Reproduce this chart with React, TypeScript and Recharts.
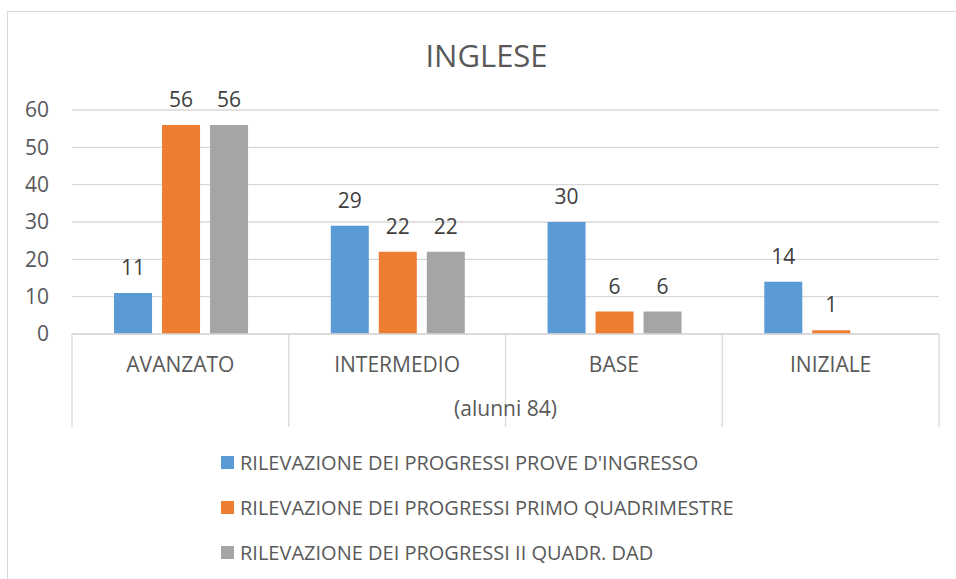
import React from 'react';
import { BarChart, Bar, XAxis, YAxis, CartesianGrid, LabelList, Label } from 'recharts';

const title = 'INGLESE';
const xAxisTitle = '(alunni 84)';
const categories = ['AVANZATO', 'INTERMEDIO', 'BASE', 'INIZIALE'];
const seriesNames = [
  "RILEVAZIONE DEI PROGRESSI PROVE D'INGRESSO",
  'RILEVAZIONE DEI PROGRESSI PRIMO QUADRIMESTRE',
  'RILEVAZIONE DEI PROGRESSI II QUADR. DAD',
];
const proveIngresso = [11, 29, 30, 14];
const primoQuadrimestre = [56, 22, 6, 1];
const secondoQuadrDad: (number | null)[] = [56, 22, 6, null];
const yTicks = [0, 10, 20, 30, 40, 50, 60];
const colors = ['#5B9BD5', '#ED7D31', '#A5A5A5'];
const seriesKeys = ['s0', 's1', 's2'];

const data = categories.map((c, i) => ({
  name: c,
  s0: proveIngresso[i],
  s1: primoQuadrimestre[i],
  s2: secondoQuadrDad[i],
}));

const FONT = '"Open Sans", sans-serif';
const GRID = '#d9d9d9';
const AXIS_TEXT = '#595959';
const FS = 21;

const CategoryTick = (props: any) => {
  const { x, y, payload, index, visibleTicksCount } = props;
  const half = payload && typeof payload.offset === 'number' ? payload.offset : 0;
  const isLast = index === (visibleTicksCount ?? categories.length) - 1;
  return (
    <g>
      <line x1={x - half} x2={x - half} y1={y} y2={y + 93} stroke={GRID} strokeWidth={1.3} />
      {isLast && <line x1={x + half} x2={x + half} y1={y} y2={y + 93} stroke={GRID} strokeWidth={1.3} />}
      <text x={x} y={y + 38} textAnchor="middle" fill={AXIS_TEXT} fontSize={FS} fontFamily={FONT}>
        {payload.value}
      </text>
    </g>
  );
};

export default function App() {
  return (
    <div style={{ position: 'absolute', left: 0, top: 0, width: 956, height: 579, overflow: 'hidden', background: '#fff' }}>
      <div
        style={{
          position: 'absolute',
          left: 7,
          top: 11,
          width: 1000,
          height: 700,
          borderTop: `1.5px solid ${GRID}`,
          borderLeft: `1.5px solid ${GRID}`,
        }}
      />
      <div style={{ position: 'absolute', left: 0, top: 0 }}>
        <BarChart
          width={956}
          height={579}
          data={data}
          margin={{ top: 110, right: 17, left: 12, bottom: 152 }}
          barCategoryGap="19.4%"
          barGap={10}
        >
          <CartesianGrid vertical={false} stroke={GRID} strokeWidth={1.3} />
          <XAxis
            dataKey="name"
            height={93}
            axisLine={{ stroke: GRID, strokeWidth: 1.3 }}
            tickLine={false}
            tickSize={0}
            tickMargin={0}
            interval={0}
            tick={<CategoryTick />}
          >
            <Label
              value={xAxisTitle}
              position="insideBottom"
              offset={11}
              fill={AXIS_TEXT}
              fontSize={FS}
              fontFamily={FONT}
            />
          </XAxis>
          <YAxis
            width={60}
            domain={[0, 60]}
            ticks={yTicks}
            interval={0}
            axisLine={false}
            tickLine={false}
            tickSize={0}
            tickMargin={23}
            tick={{ fill: AXIS_TEXT, fontSize: FS, fontFamily: FONT }}
          />
          {seriesKeys.map((k, i) => (
            <Bar key={k} dataKey={k} name={seriesNames[i]} fill={colors[i]} isAnimationActive={false}>
              <LabelList dataKey={k} position="top" offset={18} fill="#404040" fontSize={FS} fontFamily={FONT} />
            </Bar>
          ))}
        </BarChart>
      </div>
      <svg width={956} height={579} style={{ position: 'absolute', left: 0, top: 0, pointerEvents: 'none' }}>
        <text x={486.5} y={66.7} textAnchor="middle" fill={AXIS_TEXT} fontSize={31} fontFamily={FONT}>
          {title}
        </text>
        {seriesNames.map((n, i) => (
          <g key={n}>
            <rect x={221} y={456 + i * 45} width={13} height={13} fill={colors[i]} />
            <text x={240} y={470 + i * 45} fill={AXIS_TEXT} fontSize={20} fontFamily={FONT}>
              {n}
            </text>
          </g>
        ))}
      </svg>
    </div>
  );
}
